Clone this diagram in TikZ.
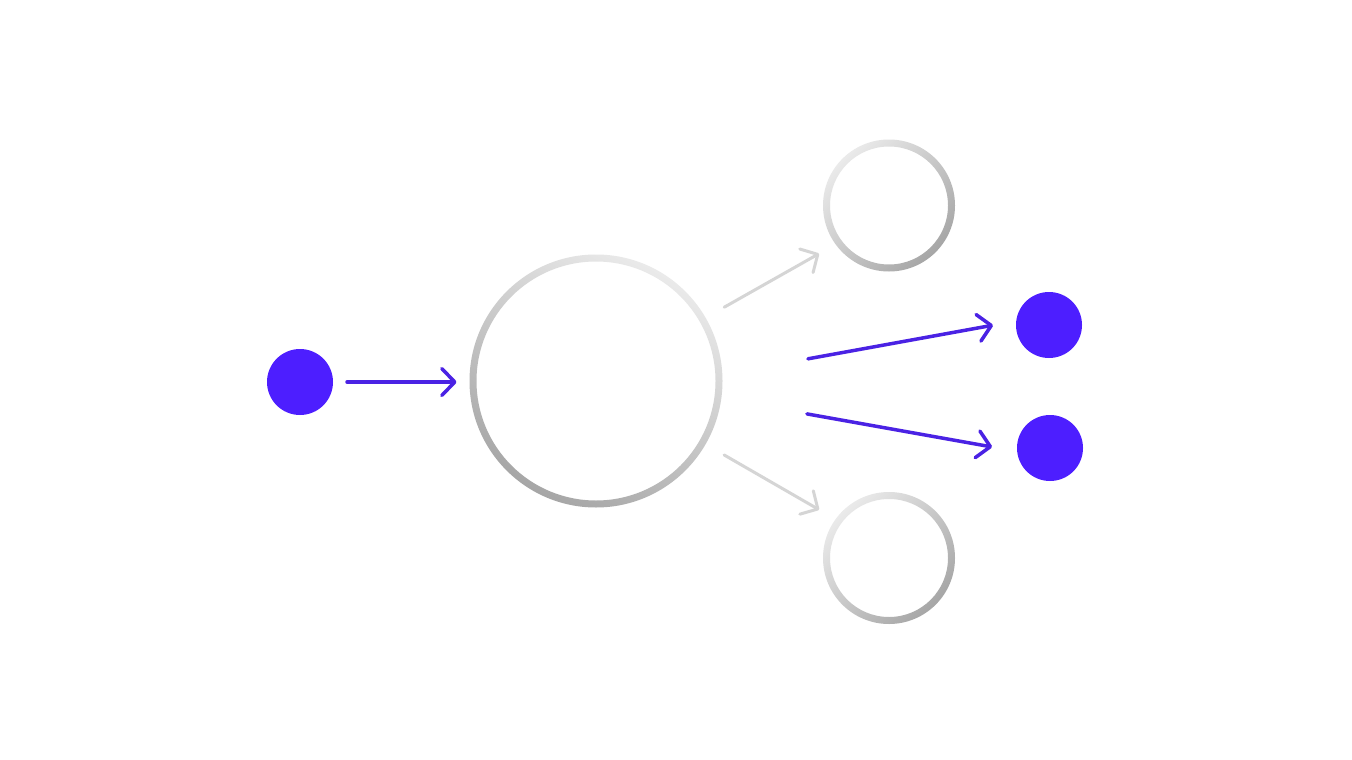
\documentclass[tikz,border=0pt]{standalone}
\usetikzlibrary{arrows.meta}
\definecolor{dotblue}{RGB}{77,30,255}
\definecolor{arrblue}{RGB}{74,34,228}
\definecolor{arrgray}{RGB}{213,213,213}
\definecolor{ringlight}{RGB}{234,234,234}
\definecolor{ringdark}{RGB}{166,166,166}
\tikzset{
  dotnode/.style={circle, fill=dotblue, minimum size=66pt, inner sep=0pt, outer sep=0pt},
  ringnode/.style={circle, inner sep=0pt, outer sep=0pt},
  barb/.style={-{Straight Barb[length=13pt,width=27pt,line cap=round,line join=round]}, line cap=round},
  bluearrow/.style={barb, draw=arrblue, line width=3.5pt},
  grayarrow/.style={barb, draw=arrgray, line width=3pt},
}
\begin{document}
\begin{tikzpicture}[x=1pt,y=-1pt]
\useasboundingbox[fill=white] (0,0) rectangle (1352,760);

\node[dotnode] (src) at (300,382) {};
\node[ringnode, minimum size=253pt] (hub) at (596,381) {};
\node[ringnode, minimum size=132pt] (top) at (889,205.5) {};
\node[ringnode, minimum size=132pt] (bot) at (889,558) {};
\node[dotnode] (o1) at (1049,325) {};
\node[dotnode] (o2) at (1050,448) {};

% rings
\shade[even odd rule, top color=ringlight, bottom color=ringdark, shading angle=-30]
  (hub.center) circle[radius=126.5pt] circle[radius=119.5pt];
\shade[even odd rule, top color=ringlight, bottom color=ringdark, shading angle=45]
  (top.center) circle[radius=66pt] circle[radius=59pt];
\shade[even odd rule, top color=ringlight, bottom color=ringdark, shading angle=45]
  (bot.center) circle[radius=66pt] circle[radius=59pt];

% connectors
\draw[bluearrow, shorten <=14pt, shorten >=13pt] (src.east) -- (src.east -| hub.west);
\draw[grayarrow, shorten <=21.4pt, shorten >=19pt] (hub.30) -- (top.216);
\draw[grayarrow, shorten <=21.4pt, shorten >=19pt] (hub.-30) -- (bot.144);
\draw[bluearrow, shorten <=87pt, shorten >=23.6pt] (hub.3.5) -- (o1.173);
\draw[bluearrow, shorten <=87pt, shorten >=25.5pt] (hub.-8.7) -- (o2.186);
\end{tikzpicture}
\end{document}
